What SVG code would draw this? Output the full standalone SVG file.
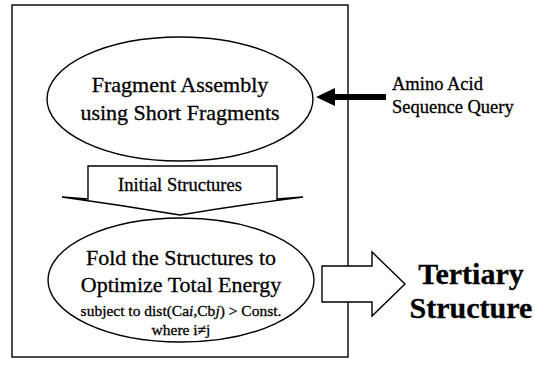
<svg xmlns="http://www.w3.org/2000/svg" width="535" height="365" viewBox="0 0 535 365">
<style>
.ln{fill:none;stroke:#000;stroke-width:1.4}
.sh{fill:#fff;stroke:#000;stroke-width:1.4}
text{font-family:"Liberation Serif","Times New Roman",serif;fill:#000;stroke:#000;stroke-width:0.3}
.big{font-size:22px}
.mid{font-size:18.5px}
.sm{font-size:15.5px}
.bold{font-size:30px;font-weight:bold}
</style>
<rect id="frame" class="ln" x="12" y="5" width="336" height="352"/>
<g id="connectors">
<line x1="386" y1="97" x2="330" y2="97" stroke="#000" stroke-width="6"/>
<polygon points="316,97 335,88 335,106" fill="#000"/>
<path id="down-arrow" class="sh" d="M88,166 L277,166 L277,199 L303,197 Q240,205 180,215 Q120,205 62,197 L88,199 Z"/>
<path id="right-arrow" class="sh" d="M322,266 L372,266 L372,252 L405,284 L372,316 L372,302 L322,302 Z"/>
</g>
<g id="node-fragment">
<ellipse class="sh" cx="180" cy="99" rx="133" ry="62"/>
<text class="big" x="180" y="92" text-anchor="middle">Fragment Assembly</text>
<text class="big" x="180" y="120" text-anchor="middle">using Short Fragments</text>
</g>
<g id="node-query">
<text class="mid" x="392" y="90">Amino Acid</text>
<text class="mid" x="392" y="113">Sequence Query</text>
</g>
<g id="label-initial">
<text class="mid" x="180" y="191" text-anchor="middle">Initial Structures</text>
</g>
<g id="node-fold">
<ellipse class="sh" cx="181" cy="280" rx="133" ry="62"/>
<text class="big" x="181" y="265" text-anchor="middle">Fold the Structures to</text>
<text class="big" x="181" y="292" text-anchor="middle">Optimize Total Energy</text>
<text class="sm" x="181" y="316" text-anchor="middle">subject to dist(Ca<tspan font-style="italic">i</tspan>,Cb<tspan font-style="italic">j</tspan>) &gt; Const.</text>
<text class="sm" x="181" y="335" text-anchor="middle">where i≠j</text>
</g>
<g id="node-tertiary">
<text class="bold" x="471" y="284" text-anchor="middle">Tertiary</text>
<text class="bold" x="471" y="318" text-anchor="middle">Structure</text>
</g>
</svg>
